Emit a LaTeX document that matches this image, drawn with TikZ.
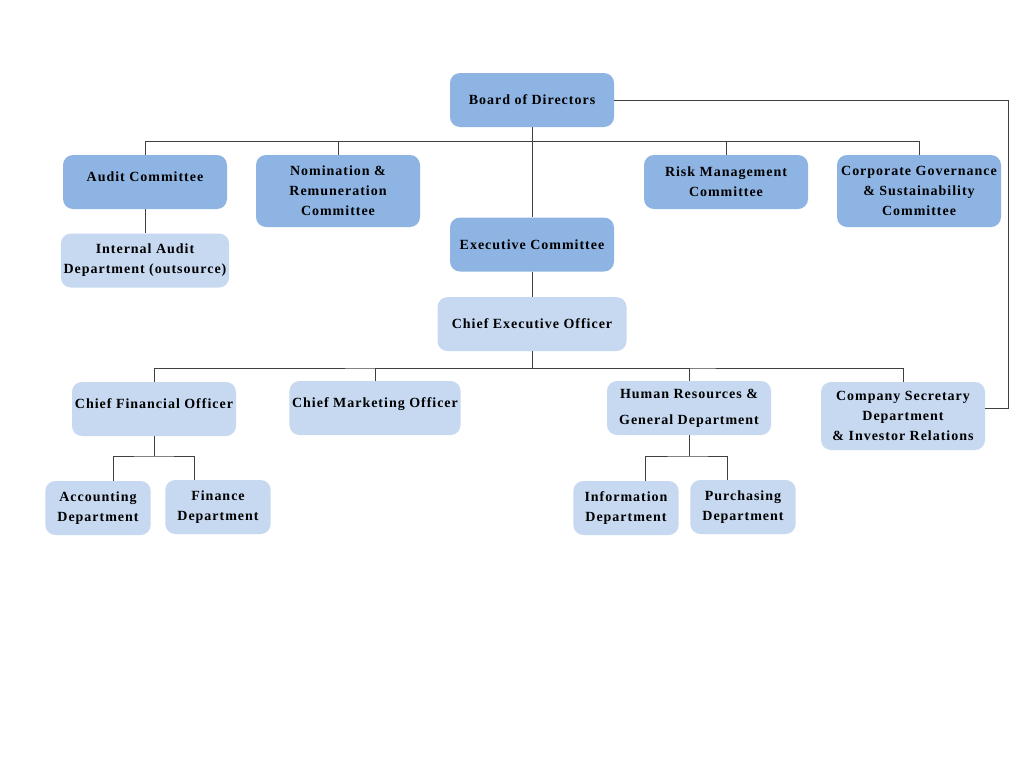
\documentclass[tikz,border=0pt]{standalone}
\usepackage{fontspec}
\newfontfamily\orgfont{Liberation Serif}[LetterSpace=7]
\usepackage{tikz}
\usetikzlibrary{positioning}
\definecolor{boxdark}{HTML}{8EB4E3}
\definecolor{boxlight}{HTML}{C6D9F1}
\definecolor{wirecol}{HTML}{404040}

\begin{document}
\begin{tikzpicture}[x=0.75pt, y=-0.75pt,
			unit/.style={rounded corners=7.5pt, inner sep=2pt, align=center, font={\orgfont\bfseries\fontsize{10.5}{15}\selectfont}, minimum width=123pt, minimum height=40.5pt},
			head/.style={unit, fill=boxdark},
			dept/.style={unit, fill=boxlight},
			tall/.style={minimum height=54pt},
			narrow/.style={minimum width=79pt},
			lifted/.style={text depth=8pt},
			wire/.style={draw=wirecol, line width=0.75pt},
		]

			\fill[white] (0,0) rectangle (1024,768);
			\useasboundingbox (0,0) rectangle (1024,768);

			\node[head] (board) at (532,100) {Board of Directors};
			\node[head, lifted] (audit) at (145,182) {Audit Committee};
			\node[head, tall] (nomination) at (338,191) {Nomination \&\\Remuneration\\Committee};
			\node[head] (risk) at (726,182) {Risk Management\\Committee};
			\node[head, tall] (governance) at (919,191) {Corporate Governance\\\& Sustainability\\Committee};
			\node[dept] (internal) [below=18pt of audit] {Internal Audit\\Department (outsource)};
			\node[head] (exec) [below=67.5pt of board] {Executive Committee};
			\node[dept, minimum width=141.75pt] (ceo) [below=18.75pt of exec] {Chief Executive Officer};
			\node[dept, lifted] (cfo) at (154,409) {Chief Financial Officer};
			\node[dept, lifted] (cmo) at (375,408) {Chief Marketing Officer};
			\node[dept] (hr) at (689,408) {Human Resources \&\\[4.5pt]General Department};
			\node[dept, minimum height=51pt] (secretary) at (903,416) {Company Secretary\\Department\\\& Investor Relations};
			\node[dept, narrow] (accounting) at (98,508) {Accounting\\Department};
			\node[dept, narrow] (finance) at (218,507) {Finance\\Department};
			\node[dept, narrow] (information) at (626,508) {Information\\Department};
			\node[dept, narrow] (purchasing) at (743,507) {Purchasing\\Department};

			\coordinate (topbus) at (532,141);
			\coordinate (ceobus) at (532,368);
			\coordinate (cfobus) at (154,456);
			\coordinate (hrbus) at (689,456);
			\coordinate (rail) at (1008,408);

			\draw[wire] (board) -- (exec);
			\draw[wire] (audit.north) |- (topbus) -| (governance.north);
			\draw[wire] (nomination.north) |- (topbus);
			\draw[wire] (risk.north) |- (topbus);
			\draw[wire] (audit) -- (internal);
			\draw[wire] (exec) -- (ceo);
			\draw[wire] (board.east) -| (rail) -- (rail -| secretary.east);
			\draw[wire] (ceo.south) -- (ceobus);
			\draw[wire] (cfo.north) |- (ceobus) -| (secretary.north);
			\draw[wire] (cmo.north) |- (ceobus);
			\draw[wire] (hr.north) |- (ceobus);
			\draw[wire] (cfo.south) -- (cfobus);
			\draw[wire] (accounting.60) |- (cfobus) -| (finance.131);
			\draw[wire] (hr.south) -- (hrbus);
			\draw[wire] (information.55) |- (hrbus) -| (purchasing.120);

		\end{tikzpicture}
\end{document}
